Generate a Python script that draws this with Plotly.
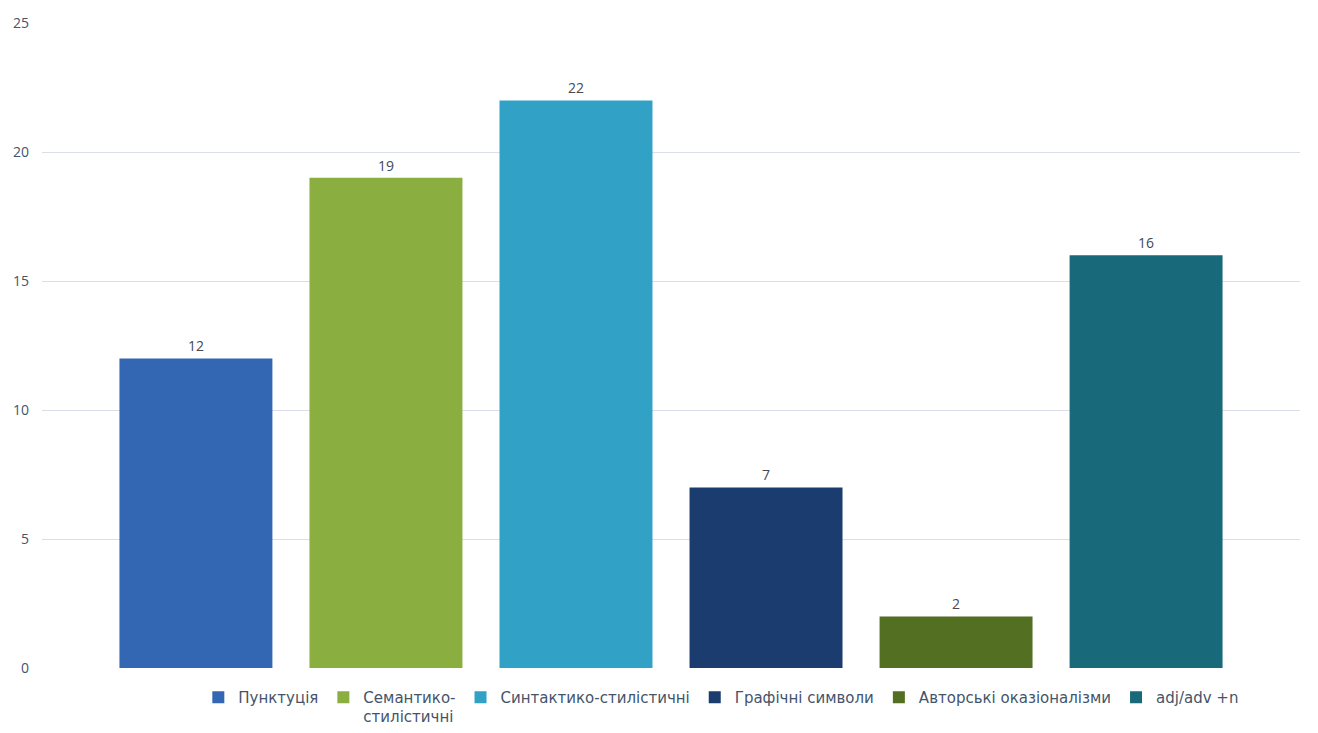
import plotly.graph_objects as go

categories = ["Пунктуція", "Семантико-<br>стилістичні", "Синтактико-стилістичні",
              "Графічні символи", "Авторські оказіоналізми", "adj/adv +n"]
values = [12, 19, 22, 7, 2, 16]
colors = ["#3467B3", "#8AAE40", "#31A1C6", "#1B3C6E", "#536F22", "#186A7B"]
y_ticks = [0, 5, 10, 15, 20, 25]

fig = go.Figure()
for i, (name, v, c) in enumerate(zip(categories, values, colors)):
    fig.add_trace(go.Bar(
        x=[i], y=[v], name=name, marker=dict(color=c, line=dict(width=0)),
        width=0.805, text=[str(v)], textposition="outside",
        textfont=dict(color="#404a5a", size=14), cliponaxis=False,
    ))

fig.update_layout(
    width=1318, height=733,
    paper_bgcolor="white", plot_bgcolor="white",
    margin=dict(l=42, r=18, t=23, b=65, autoexpand=False),
    barmode="overlay",
    font=dict(family="Open Sans", color="#44546A"),
    showlegend=True,
    legend=dict(orientation="h", x=0.54, xanchor="center", y=-0.02, yanchor="top",
                font=dict(family="DejaVu Sans", size=15, color="#44546A"),
                itemwidth=30, valign="top",
                traceorder="normal", tracegroupgap=0),
    xaxis=dict(range=[-0.81, 5.81], showticklabels=False, showgrid=False,
               zeroline=False, showline=False, ticks=""),
    yaxis=dict(range=[0, 25], tickvals=y_ticks, showgrid=True, gridcolor="#D9DEE8",
               gridwidth=1, zeroline=False, showline=False, ticks="",
               tickfont=dict(size=14, color="#44546A"), ticklabelstandoff=12),
)

fig.write_html("out.html")
